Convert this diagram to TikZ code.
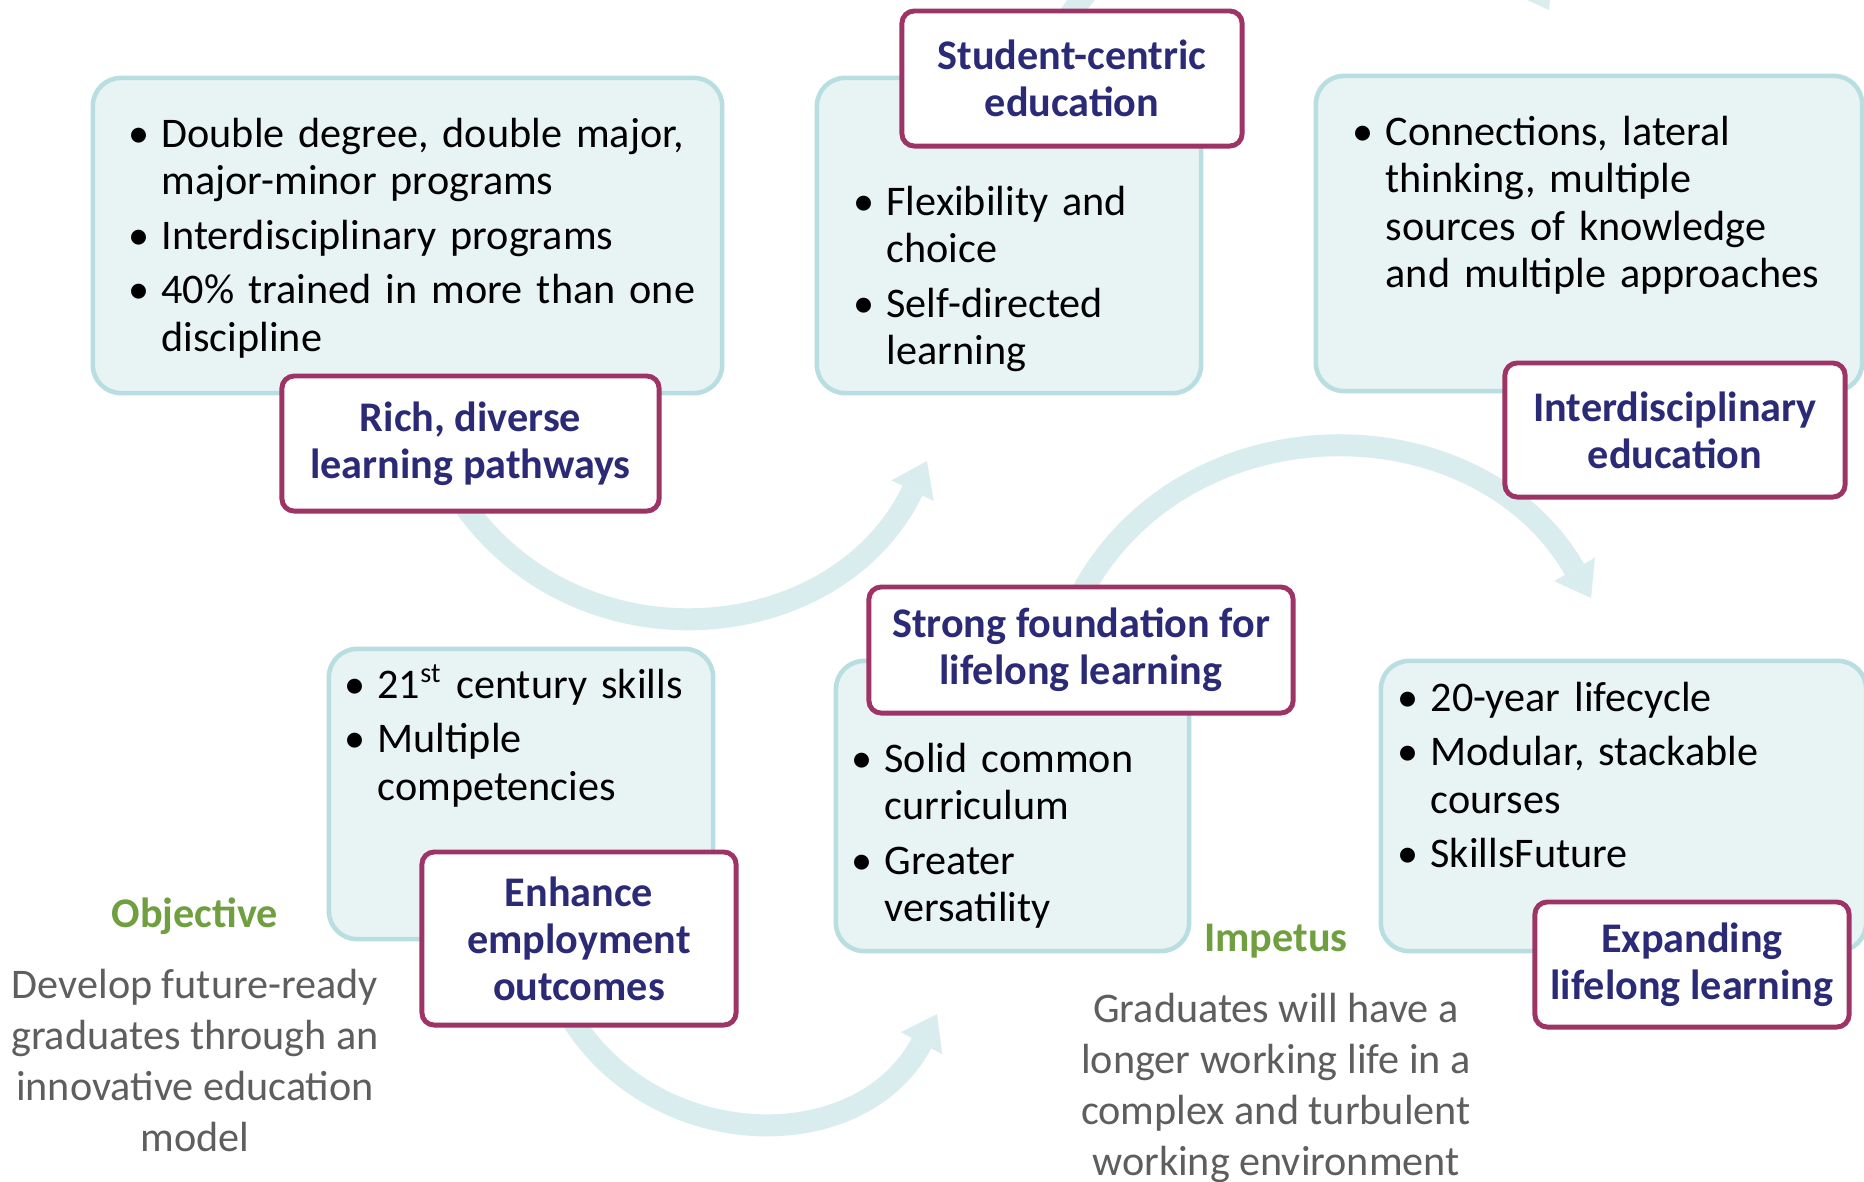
\documentclass[tikz,border=0pt]{standalone}
\usepackage{fontspec}
\setmainfont{Carlito}
\usetikzlibrary{arrows.meta}
\usetikzlibrary{backgrounds}
\definecolor{panelfill}{HTML}{E8F4F4}
\definecolor{panelline}{HTML}{B8DEE1}
\definecolor{flowcol}{HTML}{DAEDEE}
\definecolor{titleline}{HTML}{9D3465}
\definecolor{titletext}{HTML}{2B2A76}
\definecolor{headgreen}{HTML}{6F9F3F}
\definecolor{notegray}{HTML}{5E5E5E}
\tikzset{panel/.style={draw=panelline, fill=panelfill, line width=1.3pt, rounded corners=8pt, inner sep=0pt}}
\tikzset{ttl/.style={draw=titleline, fill=white, line width=1.4pt, rounded corners=3.5pt, inner sep=0pt, align=center, text=titletext, font=\bfseries\fontsize{12}{13.4}\selectfont}}
\tikzset{lst/.style={anchor=north west, inner sep=0pt, font=\fontsize{12}{13.5}\selectfont}}
\tikzset{hd/.style={anchor=base, inner sep=0pt, text=headgreen, font=\bfseries\fontsize{12}{14.5}\selectfont}}
\tikzset{nt/.style={anchor=north, inner sep=0pt, align=center, text=notegray, font=\fontsize{12}{14.5}\selectfont}}
\tikzset{flow/.style={color=flowcol, line width=0.22cm, -{Triangle[width=0.47cm,length=0.33cm,line width=0pt]}, looseness=1.15}}
\newcommand{\bul}{\par\raggedright\parskip=2pt\hangindent=9.5pt\hangafter=1\noindent\makebox[9.5pt][l]{\textbullet}\strut}

\begin{document}
\begin{tikzpicture}[x=0.01cm, y=0.01cm]
        \useasboundingbox (0,0) rectangle (1864,-1181);
        \node[panel, minimum width=6.29cm, minimum height=3.15cm] (B1) at (407.5,-235.5) {};
        \node[panel, minimum width=3.84cm, minimum height=3.15cm] (B2) at (1009,-235.5) {};
        \node[panel, minimum width=5.46cm, minimum height=3.15cm] (B3) at (1589,-233.5) {};
        \node[panel, minimum width=3.84cm, minimum height=2.9cm] (B4) at (521,-794) {};
        \node[panel, minimum width=3.53cm, minimum height=2.9cm] (B5) at (1012.5,-806) {};
        \node[panel, minimum width=4.85cm, minimum height=2.9cm] (B6) at (1623.5,-806) {};

        \node[lst, text width=5.9cm] (L1) at (127.5,-92) {\bul Double degree, double major,\newline major-minor programs \bul Interdisciplinary programs \bul 40\% trained in more than one\newline discipline\par};
        \node[lst, text width=3.3cm] (L2) at (852.5,-160) {\bul Flexibility and\newline choice \bul Self-directed\newline learning\par};
        \node[lst, text width=5cm] (L3) at (1351.5,-90) {\bul Connections, lateral\newline thinking, multiple\newline sources of knowledge\newline and multiple approaches\par};
        \node[lst, text width=3.5cm] (L4) at (343.5,-643) {\bul 21\textsuperscript{st} century skills \bul Multiple\newline competencies\par};
        \node[lst, text width=3.2cm] (L5) at (850.5,-717) {\bul Solid common\newline curriculum \bul Greater\newline versatility\par};
        \node[lst, text width=4cm] (L6) at (1396.5,-656) {\bul 20-year lifecycle \bul Modular, stackable\newline courses \bul SkillsFuture\par};

        \node[ttl, minimum width=3.4cm, minimum height=1.35cm] (T1) at (1072,-78.5) {Student-centric\\education};
        \node[ttl, minimum width=3.77cm, minimum height=1.35cm] (T2) at (470.5,-443.5) {Rich, diverse\\learning pathways};
        \node[ttl, minimum width=3.4cm, minimum height=1.34cm] (T3) at (1675,-430) {Interdisciplinary\\education};
        \node[ttl, minimum width=4.24cm, minimum height=1.26cm] (T4) at (1081,-650) {Strong foundation for\\lifelong learning};
        \node[ttl, minimum width=3.14cm, minimum height=1.73cm] (T5) at (579,-938.5) {Enhance\\employment\\outcomes};
        \node[ttl, minimum width=3.14cm, minimum height=1.25cm] (T6) at (1692,-964.5) {Expanding\\lifelong learning};

        \node[hd] (Obj) at (195,-927) {Objective};
        \node[nt] (ObjTxt) at (195,-962) {\strut Develop future-ready\\graduates through an\\innovative education\\model};
        \node[hd] (Imp) at (1276,-951) {Impetus};
        \node[nt] (ImpTxt) at (1276,-986) {\strut Graduates will have a\\longer working life in a\\complex and turbulent\\working environment};

        \coordinate (A1) at (927,-461);
        \coordinate (A2) at (1591,-598);
        \coordinate (A3) at (937,-1014);
        \coordinate (A4) at (1549,-10);
        \begin{scope}[on background layer]
          \fill[white] (0,0) rectangle (1864,-1181);
          \draw[flow] ([shift={(-15.5,22)}]T2.south) to[out=302, in=244] (A1);
          \draw[flow] ([shift={(-9,-28)}]T4.north) to[out=66, in=120] (A2);
          \draw[flow] ([shift={(-15,22)}]T5.south) to[out=298, in=242] (A3);
          \draw[flow] ([shift={(-13,-24.5)}]T1.north) to[out=60, in=120] (A4);
        \end{scope}
      \end{tikzpicture}
\end{document}
